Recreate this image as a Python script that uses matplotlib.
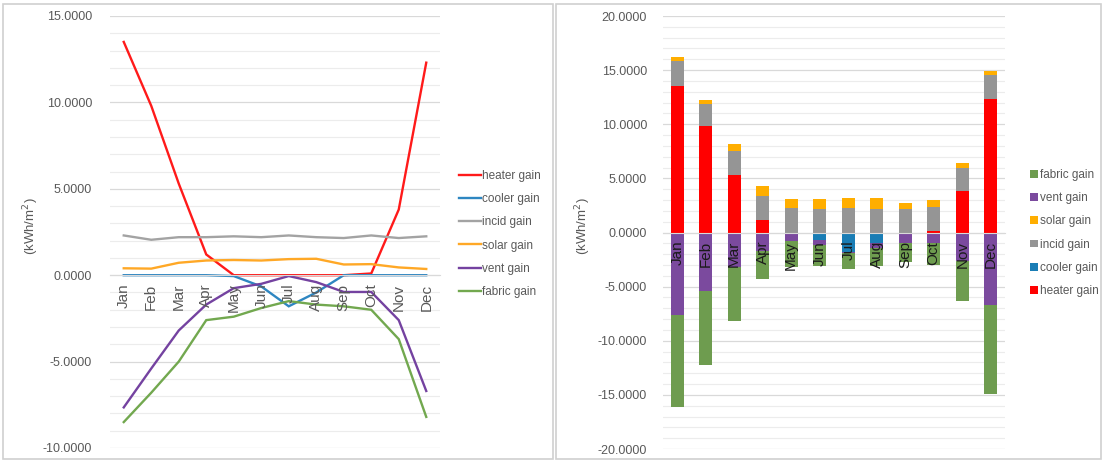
import matplotlib
matplotlib.use("Agg")
import matplotlib.pyplot as plt
import numpy as np
from matplotlib.patches import Rectangle

plt.rcParams["font.family"] = ["Liberation Sans", "DejaVu Sans"]

months = ["Jan", "Feb", "Mar", "Apr", "May", "Jun",
          "Jul", "Aug", "Sep", "Oct", "Nov", "Dec"]

heater_gain = [13.5, 9.8, 5.3, 1.2, 0.0, 0.0, 0.0, 0.0, 0.0, 0.1, 3.8, 12.3]
cooler_gain = [0.0, 0.0, 0.0, 0.0, -0.05, -0.65, -1.8, -1.0, 0.0, 0.0, 0.0, 0.0]
incid_gain = [2.3, 2.05, 2.2, 2.2, 2.25, 2.2, 2.3, 2.2, 2.15, 2.3, 2.15, 2.25]
solar_gain = [0.4, 0.38, 0.72, 0.85, 0.88, 0.85, 0.93, 0.95, 0.62, 0.64, 0.45, 0.36]
vent_gain = [-7.65, -5.4, -3.2, -1.7, -0.75, -0.5, -0.05, -0.4, -0.97, -0.97, -2.6, -6.7]
fabric_gain = [-8.5, -6.8, -5.0, -2.6, -2.4, -1.9, -1.5, -1.7, -1.8, -2.0, -3.7, -8.2]

series_names = ["heater gain", "cooler gain", "incid gain",
                "solar gain", "vent gain", "fabric gain"]
series_values = [heater_gain, cooler_gain, incid_gain,
                 solar_gain, vent_gain, fabric_gain]
line_colors = ["#FF1A1A", "#2E86C1", "#A3A3A3", "#FFA826", "#7442A0", "#72A84F"]
bar_colors = ["#FF0000", "#1A7DB5", "#959595", "#FFAE00", "#7B4A9E", "#6E9C4F"]

W, H = 1104, 463
fig = plt.figure(figsize=(W / 100, H / 100), dpi=100)
fig.patch.set_facecolor("white")

tick_color = "#595959"
grid_major = "#D9D9D9"
grid_minor = "#ECECEC"


def axes_rect(x0, y0, x1, y1):
    return [x0 / W, 1 - y1 / H, (x1 - x0) / W, (y1 - y0) / H]


def style_axes(ax, ymin, ymax, month_color, ypad):
    x = np.arange(len(months))
    ax.set_xlim(-0.5, len(months) - 0.5)
    ax.set_ylim(ymin, ymax)
    ax.set_yticks(np.arange(ymin, ymax + 0.1, 5))
    ax.set_yticks(np.arange(ymin, ymax + 0.1, 1), minor=True)
    ax.yaxis.set_major_formatter(plt.FuncFormatter(lambda v, p: f"{v:.4f}"))
    ax.grid(axis="y", which="major", color=grid_major, lw=0.9)
    ax.grid(axis="y", which="minor", color=grid_minor, lw=0.8)
    ax.set_axisbelow(True)
    for s in ["top", "right", "left"]:
        ax.spines[s].set_visible(False)
    ax.spines["bottom"].set_position(("data", 0))
    ax.spines["bottom"].set_color(grid_major)
    ax.tick_params(axis="y", which="both", length=0, labelsize=9,
                   labelcolor=tick_color, pad=ypad)
    ax.set_xticks(x)
    ax.set_xticklabels(months, rotation=90, fontsize=11, color=month_color)
    ax.tick_params(axis="x", length=0, pad=6)
    ax.xaxis.set_zorder(5)
    return x


# Monthly gains as lines
ax1 = fig.add_axes(axes_rect(110, 16, 440, 448))
x = style_axes(ax1, -10, 15, tick_color, 13)
for name, vals, col in zip(series_names, series_values, line_colors):
    ax1.plot(x, vals, color=col, lw=1.7, label=name, solid_joinstyle="miter")
ax1.legend(loc="center left", bbox_to_anchor=(453 / W, 1 - 234 / H),
           bbox_transform=fig.transFigure, frameon=False, fontsize=8.5,
           handlelength=1.9, handletextpad=0.08, labelspacing=0.95,
           labelcolor=tick_color, borderpad=0)

# Monthly gains as stacked bars
ax2 = fig.add_axes(axes_rect(663, 16, 1005, 449))
x = style_axes(ax2, -20, 20, "#1A1A1A", 11.5)
pos_base = np.zeros(len(months))
neg_base = np.zeros(len(months))
handles = []
for name, vals, col in zip(series_names, series_values, bar_colors):
    v = np.array(vals, dtype=float)
    base = np.where(v >= 0, pos_base, neg_base)
    h = ax2.bar(x, v, bottom=base, width=0.45, color=col, label=name, zorder=2)
    handles.append(h)
    pos_base = pos_base + np.where(v >= 0, v, 0)
    neg_base = neg_base + np.where(v < 0, v, 0)
ax2.legend(handles[::-1], series_names[::-1], loc="center left",
           bbox_to_anchor=(1024 / W, 1 - 233 / H),
           bbox_transform=fig.transFigure, frameon=False, fontsize=8.5,
           handlelength=0.65, handleheight=0.65, handletextpad=0.2,
           labelspacing=0.95, labelcolor=tick_color, borderpad=0)

# Axis titles
fig.text(31 / W, 1 - 226 / H, "(kWh/m$^2$)", rotation=90, ha="center",
         va="center", fontsize=9.5, color=tick_color)
fig.text(583 / W, 1 - 226 / H, "(kWh/m$^2$)", rotation=90, ha="center",
         va="center", fontsize=9.5, color=tick_color)

# Panel frames
frame_col = "#D0D0D0"
fig.add_artist(Rectangle((3 / W, 1 - 459 / H), 550 / W, 455 / H,
                         transform=fig.transFigure, fill=False,
                         edgecolor=frame_col, lw=1.2))
fig.add_artist(Rectangle((556 / W, 1 - 459 / H), 545 / W, 455 / H,
                         transform=fig.transFigure, fill=False,
                         edgecolor=frame_col, lw=1.2))

fig.savefig("out.png", dpi=100, facecolor="white")
